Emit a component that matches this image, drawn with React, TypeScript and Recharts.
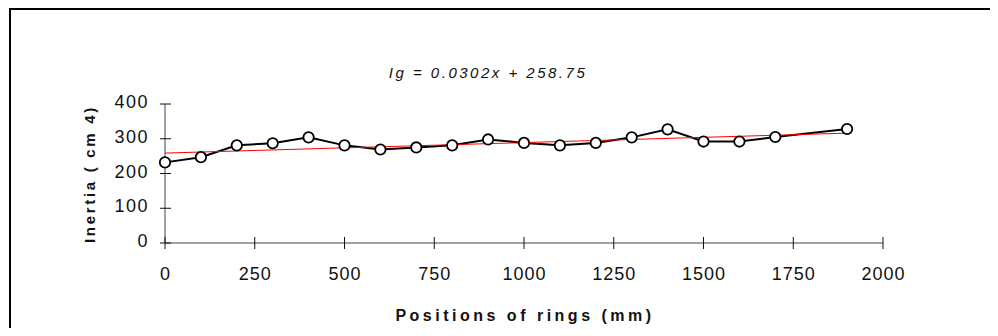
import React from "react";
import { LineChart, Line, XAxis, YAxis, ReferenceLine } from "recharts";

const positions = [0, 100, 200, 300, 400, 500, 600, 700, 800, 900, 1000, 1100, 1200, 1300, 1400, 1500, 1600, 1700, 1900];
const inertia = [232, 247, 281, 287, 304, 281, 269, 275, 281, 298, 288, 281, 288, 304, 327, 292, 292, 305, 328];

const xTicks = [0, 250, 500, 750, 1000, 1250, 1500, 1750, 2000];
const yTicks = [0, 100, 200, 300, 400];

// trend line ends as drawn on the chart
const trendX = [0, 1900];
const trendY = [258.75, 316.13];

const title = "Ig = 0.0302x + 258.75";
const xTitle = "Positions of rings (mm)";
const yTitle = "Inertia ( cm 4)";

const FONT = '"Liberation Sans", Arial, Helvetica, sans-serif';

const data = positions.map((p, i) => ({ x: p, y: inertia[i] }));

function XTick(props: any) {
  const { x, y, payload } = props;
  return (
    <g>
      <line x1={x} x2={x} y1={y - 6} y2={y + 6} stroke="#111" strokeWidth={1} />
      <text x={x + 0.5} y={y + 37} textAnchor="middle" fontSize={18} letterSpacing={1} fill="#111" fontFamily={FONT}>
        {payload.value}
      </text>
    </g>
  );
}

function YTick(props: any) {
  const { x, y, payload } = props;
  return (
    <g>
      <line x1={x - 5} x2={x + 6} y1={y} y2={y} stroke="#111" strokeWidth={1} />
      <text x={x - 16} y={y + 4} textAnchor="end" fontSize={18} letterSpacing={1.5} fill="#111" fontFamily={FONT}>
        {payload.value}
      </text>
    </g>
  );
}

export default function App() {
  return (
    <div style={{ marginLeft: 1, width: 987, height: 318, borderTop: "2px solid #000", borderLeft: "2px solid #000", background: "#fff" }}>
      <LineChart width={987} height={318} data={data} margin={{ top: 94, right: 115, left: 94, bottom: 55 }}>
        <XAxis
          type="number"
          dataKey="x"
          domain={[0, 2000]}
          ticks={xTicks}
          tickSize={0}
          tickMargin={0}
          tickLine={false}
          tick={<XTick />}
          axisLine={{ stroke: "#444", strokeWidth: 1 }}
          interval={0}
        />
        <YAxis
          type="number"
          domain={[0, 400]}
          ticks={yTicks}
          tickSize={0}
          tickMargin={0}
          tickLine={false}
          tick={<YTick />}
          axisLine={{ stroke: "#444", strokeWidth: 1 }}
          interval={0}
        />
        <Line
          type="linear"
          dataKey="y"
          stroke="#000"
          strokeWidth={2}
          dot={{ r: 5.2, fill: "#fff", stroke: "#000", strokeWidth: 1.8 }}
          isAnimationActive={false}
        />
        <ReferenceLine
          segment={[
            { x: trendX[0], y: trendY[0] },
            { x: trendX[1], y: trendY[1] },
          ]}
          stroke="#ff0000"
          strokeWidth={1}
        />
        <text x={477} y={68} textAnchor="middle" fontSize={15} fontStyle="italic" letterSpacing={2.5} fill="#111" fontFamily={FONT}>
          {title}
        </text>
        <text x={514} y={311} textAnchor="middle" fontSize={16} fontWeight="bold" letterSpacing={3.5} fill="#111" fontFamily={FONT}>
          {xTitle}
        </text>
        <text
          x={84}
          y={164}
          transform="rotate(-90 84 164)"
          textAnchor="middle"
          fontSize={15}
          fontWeight="bold"
          letterSpacing={2.7}
          fill="#111"
          fontFamily={FONT}
        >
          {yTitle}
        </text>
      </LineChart>
    </div>
  );
}
